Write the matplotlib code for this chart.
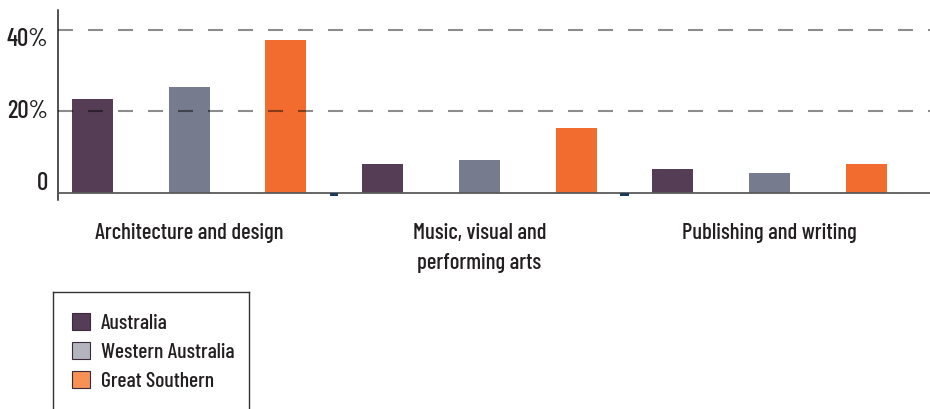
import matplotlib.pyplot as plt
from matplotlib.patches import Patch
from matplotlib.lines import Line2D

categories = ['Architecture and design', 'Music, visual and\nperforming arts', 'Publishing and writing']
series = ['Australia', 'Western Australia', 'Great Southern']
australia = [23, 7, 6]
western_australia = [26, 8, 5]
great_southern = [37.5, 16, 7]
ytick_values = [0, 20, 40]
ytick_labels = ['0', '20%', '40%']

bar_colors = ['#553d56', '#767b8e', '#f26b2f']
legend_colors = ['#553d57', '#b4b4be', '#f79156']

plt.rcParams['font.family'] = ['Barlow Condensed', 'DejaVu Sans']
plt.rcParams['font.weight'] = 'medium'

fig = plt.figure(figsize=(9.3, 4.09), dpi=100)
W, H = 930, 409
ax = fig.add_axes([58 / W, (H - 200) / H, (930 - 58) / W, 190 / H])

values = [australia, western_australia, great_southern]
n = len(series)
for s in range(n):
    xs = [g * n + s for g in range(len(categories))]
    ax.bar(xs, values[s], width=0.424, color=bar_colors[s], zorder=2)

# little separators between groups
for g in range(1, len(categories)):
    ax.bar(g * n - 0.5, 0.9, bottom=-0.85, width=0.085, color='#1c3a5e', zorder=4)

ax.set_xlim(-0.357, 8.66)
ax.set_ylim(-1.72, 44.9)

for v in ytick_values[1:]:
    ax.axhline(v, color='black', alpha=0.45, lw=1.5, linestyle=(0, (7.2, 7.2)), zorder=3)
ax.axhline(0, color='#5a5a5a', lw=1.3, zorder=3)

ax.set_xticks([])
ax.set_yticks([])
for side in ['top', 'right', 'bottom']:
    ax.spines[side].set_visible(False)
ax.spines['left'].set_color('#222222')
ax.spines['left'].set_linewidth(1.1)

trans = ax.get_yaxis_transform()
tick_kw = dict(transform=trans, ha='right', fontsize=18, color='#231f20')
ax.text(-0.011, ytick_values[2] + 0.6, ytick_labels[2], va='top', **tick_kw)
ax.text(-0.011, ytick_values[1], ytick_labels[1], va='center', **tick_kw)
ax.text(-0.011, ytick_values[0] - 0.6, ytick_labels[0], va='bottom', **tick_kw)

xtrans = ax.get_xaxis_transform()
for g, cat in enumerate(categories):
    ax.text(g * n + 1, -0.12, cat, transform=xtrans, ha='center', va='top', fontsize=16.3,
            color='#231f20', linespacing=1.65)

handles = [Patch(facecolor=legend_colors[i], edgecolor='#3a2a3a', lw=0.8) for i in range(n)]
fig.legend(handles, series, loc='upper left', bbox_to_anchor=(72 / W, 1 - 313 / H),
           frameon=False, fontsize=15.6, borderpad=0, borderaxespad=0,
           handlelength=0.85, handleheight=0.85, handletextpad=0.5, labelspacing=0.4,
           labelcolor='#231f20')

# legend box (bottom edge runs off the picture)
box = dict(color='#333333', lw=1.0, transform=fig.transFigure)
fig.add_artist(Line2D([53 / W, 53 / W], [0, 1 - 292 / H], **box))
fig.add_artist(Line2D([249 / W, 249 / W], [0, 1 - 292 / H], **box))
fig.add_artist(Line2D([53 / W, 249 / W], [1 - 292 / H, 1 - 292 / H], **box))

fig.savefig('out.png', dpi=100)
